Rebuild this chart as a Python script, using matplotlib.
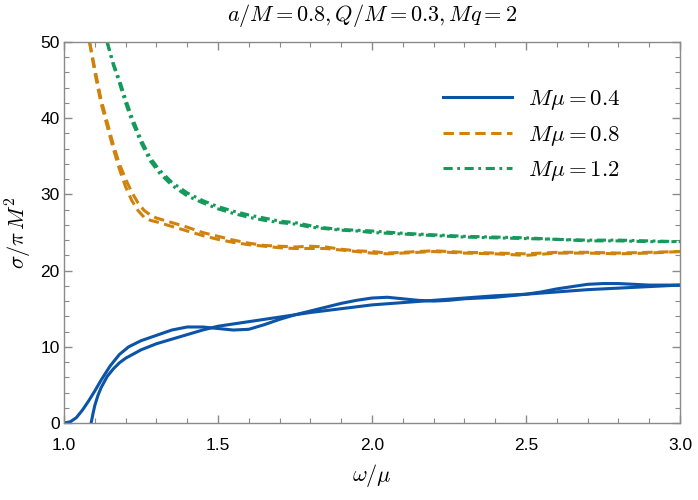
import matplotlib
matplotlib.use("Agg")
import matplotlib.pyplot as plt
from matplotlib.ticker import MultipleLocator

plt.rcParams["mathtext.fontset"] = "cm"
plt.rcParams["font.family"] = ["Liberation Sans", "DejaVu Sans"]

# M mu = 0.4 (two curves)
w_blue_a = [1.00, 1.02, 1.04, 1.06, 1.08, 1.10, 1.12, 1.15, 1.18, 1.21, 1.25, 1.30,
            1.35, 1.40, 1.45, 1.50, 1.55, 1.60, 1.65, 1.70, 1.75, 1.80, 1.85, 1.90,
            1.95, 2.00, 2.05, 2.10, 2.15, 2.20, 2.25, 2.30, 2.35, 2.40, 2.45, 2.50,
            2.55, 2.60, 2.65, 2.70, 2.75, 2.80, 2.85, 2.90, 2.95, 3.00]
s_blue_a = [0.0, 0.15, 0.7, 1.7, 2.9, 4.2, 5.6, 7.5, 9.0, 10.0, 10.8, 11.5,
            12.2, 12.6, 12.6, 12.4, 12.2, 12.3, 12.9, 13.6, 14.2, 14.7, 15.2, 15.7,
            16.1, 16.4, 16.5, 16.3, 16.1, 16.0, 16.1, 16.3, 16.4, 16.5, 16.7, 16.9,
            17.2, 17.6, 17.9, 18.2, 18.3, 18.3, 18.2, 18.1, 18.1, 18.1]

w_blue_b = [1.088, 1.095, 1.10, 1.11, 1.12, 1.14, 1.16, 1.18, 1.20, 1.25, 1.30, 1.35,
            1.40, 1.45, 1.50, 1.55, 1.60, 1.65, 1.70, 1.75, 1.80, 1.90, 2.00, 2.10,
            2.20, 2.30, 2.40, 2.50, 2.60, 2.70, 2.80, 2.90, 3.00]
s_blue_b = [0.0, 1.4, 2.3, 3.6, 4.6, 6.1, 7.1, 7.9, 8.5, 9.6, 10.4, 11.0,
            11.6, 12.2, 12.7, 13.0, 13.3, 13.6, 13.9, 14.2, 14.5, 15.0, 15.5, 15.8,
            16.1, 16.4, 16.7, 16.9, 17.2, 17.5, 17.7, 17.9, 18.1]

# M mu = 0.8
w_orange = [1.083, 1.10, 1.12, 1.14, 1.16, 1.18, 1.20, 1.22, 1.24, 1.26, 1.28, 1.30,
            1.35, 1.40, 1.45, 1.50, 1.55, 1.60, 1.65, 1.70, 1.75, 1.80, 1.85, 1.90,
            1.95, 2.00, 2.05, 2.10, 2.15, 2.20, 2.25, 2.30, 2.40, 2.50, 2.60, 2.70,
            2.80, 2.90, 3.00]
s_orange_a = [50.0, 46.5, 42.5, 39.5, 36.5, 34.0, 32.0, 30.3, 28.9, 27.9, 27.3, 26.9,
              26.3, 25.7, 25.0, 24.5, 24.0, 23.6, 23.3, 23.2, 23.1, 23.2, 23.1, 22.8,
              22.6, 22.5, 22.3, 22.4, 22.5, 22.6, 22.5, 22.4, 22.3, 22.2, 22.4, 22.4,
              22.3, 22.4, 22.5]
s_orange_b = [50.0, 46.0, 42.0, 39.0, 36.0, 33.3, 31.0, 29.2, 27.9, 27.0, 26.6, 26.4,
              25.8, 25.2, 24.6, 24.1, 23.7, 23.4, 23.2, 23.0, 22.9, 22.9, 22.9, 22.7,
              22.5, 22.3, 22.2, 22.3, 22.4, 22.5, 22.4, 22.3, 22.2, 22.0, 22.3, 22.3,
              22.2, 22.3, 22.5]

# M mu = 1.2
w_green = [1.14, 1.16, 1.18, 1.20, 1.22, 1.25, 1.28, 1.31, 1.35, 1.40, 1.45, 1.50,
           1.55, 1.60, 1.65, 1.70, 1.75, 1.80, 1.85, 1.90, 1.95, 2.00, 2.10, 2.20,
           2.30, 2.40, 2.50, 2.60, 2.70, 2.80, 2.90, 3.00]
s_green_a = [50.0, 47.2, 45.0, 42.5, 40.2, 37.2, 34.8, 33.2, 31.6, 30.2, 29.2, 28.4,
             27.8, 27.3, 26.9, 26.5, 26.3, 25.9, 25.6, 25.4, 25.3, 25.2, 24.9, 24.7,
             24.5, 24.4, 24.3, 24.1, 24.0, 24.0, 23.9, 23.8]
s_green_b = [50.0, 47.0, 44.6, 42.0, 39.7, 36.8, 34.4, 32.8, 31.2, 29.8, 28.9, 28.1,
             27.5, 27.0, 26.6, 26.3, 26.1, 25.7, 25.5, 25.3, 25.2, 25.0, 24.8, 24.6,
             24.4, 24.3, 24.2, 24.1, 23.9, 23.9, 23.8, 23.8]

blue = "#0b54a8"
orange = "#d0820c"
green = "#159a5c"
lw = 2.2
dash = (0, (3.4, 1.8))
dashdot = (0, (3.0, 1.5, 0.9, 1.5))

fig = plt.figure(figsize=(6.98, 5.0), dpi=100, facecolor="white")
ax = fig.add_axes([0.0917, 0.154, 0.8825, 0.762])

ax.plot(w_blue_a, s_blue_a, color=blue, lw=lw, label=r"$M\mu=0.4$")
ax.plot(w_blue_b, s_blue_b, color=blue, lw=lw)
ax.plot(w_orange, s_orange_a, color=orange, lw=lw, ls=dash, label=r"$M\mu=0.8$")
ax.plot(w_orange, s_orange_b, color=orange, lw=lw, ls=dash)
ax.plot(w_green, s_green_a, color=green, lw=lw, ls=dashdot, label=r"$M\mu=1.2$")
ax.plot(w_green, s_green_b, color=green, lw=lw, ls=dashdot)

ax.set_xlim(1.0, 3.0)
ax.set_ylim(0, 50)
ax.xaxis.set_major_locator(MultipleLocator(0.5))
ax.xaxis.set_minor_locator(MultipleLocator(0.1))
ax.yaxis.set_major_locator(MultipleLocator(10))
ax.yaxis.set_minor_locator(MultipleLocator(2))
ax.xaxis.set_major_formatter(plt.FuncFormatter(lambda v, p: f"{v:.1f}"))

for sp in ax.spines.values():
    sp.set_color("#8a8a8a")
    sp.set_linewidth(1.0)
ax.tick_params(which="both", direction="in", top=True, right=True,
               colors="#8a8a8a", labelcolor="black", labelsize=12.5)
ax.tick_params(which="major", length=6, width=1.0)
ax.tick_params(which="minor", length=3.5, width=0.8)
ax.tick_params(axis="x", pad=11)
ax.tick_params(axis="y", pad=3)

ax.set_xlabel(r"$\omega/\mu$", fontsize=16, labelpad=6)
ax.set_ylabel(r"$\sigma/\pi\,M^2$", fontsize=16, labelpad=5)
ax.set_title(r"$a/M=0.8, Q/M=0.3, Mq=2$", fontsize=16, pad=15)

ax.legend(loc="upper left", bbox_to_anchor=(0.6, 0.905), frameon=False,
          fontsize=16.5, handlelength=3.0, handletextpad=0.7, labelspacing=0.45,
          borderaxespad=0.0)

fig.savefig("out.png", dpi=100, facecolor="white")
